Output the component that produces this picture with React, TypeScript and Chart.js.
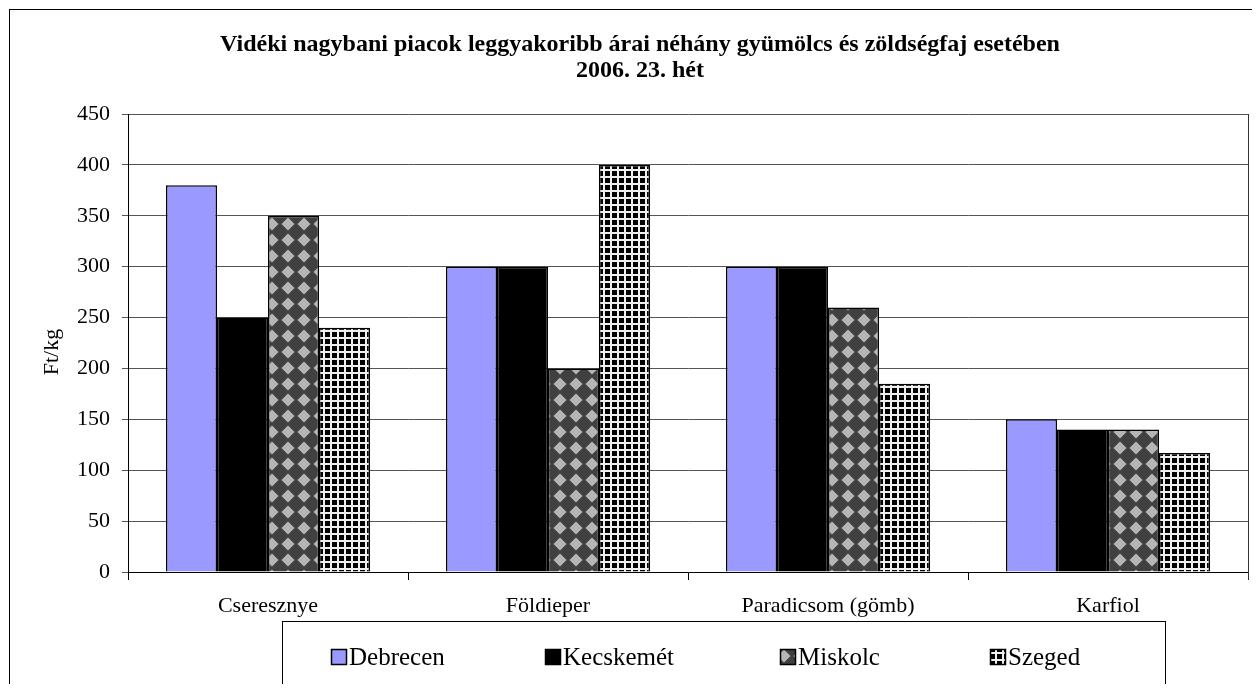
import { useEffect, useRef } from "react";
import { Chart, registerables } from "chart.js";

Chart.register(...registerables);

const categories = ["Cseresznye", "Földieper", "Paradicsom (gömb)", "Karfiol"];
const seriesNames = ["Debrecen", "Kecskemét", "Miskolc", "Szeged"];
const debrecen = [380, 300, 300, 150];
const kecskemet = [250, 300, 300, 140];
const miskolc = [350, 200, 260, 140];
const szeged = [240, 400, 185, 117];
const titleLines = [
  "Vidéki nagybani piacok leggyakoribb árai néhány gyümölcs és zöldségfaj esetében",
  "2006. 23. hét",
];
const yAxisTitle = "Ft/kg";
const yMin = 0;
const yMax = 450;
const yStep = 50;

const SERIF = '"Liberation Serif", "Times New Roman", serif';

function makeDiamondPattern(): CanvasPattern | string {
  const c = document.createElement("canvas");
  c.width = 16;
  c.height = 16;
  const g = c.getContext("2d");
  if (!g) return "#555";
  g.fillStyle = "#404040";
  g.fillRect(0, 0, 16, 16);
  g.fillStyle = "#b6b6b6";
  g.beginPath();
  g.moveTo(8, 1.5);
  g.lineTo(14.5, 8);
  g.lineTo(8, 14.5);
  g.lineTo(1.5, 8);
  g.closePath();
  g.fill();
  const p = g.createPattern(c, "repeat");
  return p || "#555";
}

function makeGridPattern(): CanvasPattern | string {
  const c = document.createElement("canvas");
  c.width = 7;
  c.height = 7;
  const g = c.getContext("2d");
  if (!g) return "#222";
  g.fillStyle = "#000";
  g.fillRect(0, 0, 7, 7);
  g.fillStyle = "#f0f0f0";
  g.fillRect(0, 0, 7, 2);
  g.fillRect(0, 0, 2, 7);
  const p = g.createPattern(c, "repeat");
  return p || "#222";
}

const legendXs = [323, 537, 772, 982];

export default function App() {
  const ref = useRef<HTMLCanvasElement | null>(null);

  useEffect(() => {
    const canvas = ref.current;
    if (!canvas) return;
    const fills = ["#9999ff", "#000000", makeDiamondPattern(), makeGridPattern()];
    const values = [debrecen, kecskemet, miskolc, szeged];

    const decor = {
      id: "decor",
      beforeDraw(chart: any) {
        const ctx = chart.ctx as CanvasRenderingContext2D;
        ctx.save();
        ctx.fillStyle = "#fff";
        ctx.fillRect(0, 0, chart.width, chart.height);
        ctx.strokeStyle = "#000";
        ctx.lineWidth = 1;
        ctx.strokeRect(1.5, 1.5, chart.width + 20, chart.height + 20);
        ctx.fillStyle = "#000";
        ctx.font = `bold 24px ${SERIF}`;
        ctx.textAlign = "center";
        ctx.textBaseline = "middle";
        ctx.fillText(titleLines[0], 632, 37);
        ctx.fillText(titleLines[1], 632, 63);
        // y axis title
        ctx.save();
        ctx.translate(44, 344);
        ctx.rotate(-Math.PI / 2);
        ctx.font = `22px ${SERIF}`;
        ctx.fillText(yAxisTitle, 0, 0);
        ctx.restore();
        ctx.restore();
      },
      afterDraw(chart: any) {
        const ctx = chart.ctx as CanvasRenderingContext2D;
        const a = chart.chartArea;
        ctx.save();
        ctx.strokeStyle = "#333";
        ctx.lineWidth = 1;
        ctx.beginPath();
        ctx.moveTo(Math.round(a.right) + 0.5, a.top);
        ctx.lineTo(Math.round(a.right) + 0.5, a.bottom + 8);
        ctx.stroke();
        // legend box
        ctx.strokeStyle = "#000";
        ctx.strokeRect(274.5, 613.5, 883, 65);
        ctx.font = `25px ${SERIF}`;
        ctx.textBaseline = "middle";
        ctx.textAlign = "left";
        chart.data.datasets.forEach((ds: any, i: number) => {
          const x = legendXs[i];
          const y = 641;
          ctx.fillStyle = ds.backgroundColor;
          ctx.fillRect(x, y, 15, 15);
          ctx.strokeStyle = "#000";
          ctx.lineWidth = 1.5;
          ctx.strokeRect(x + 0.5, y + 0.5, 15, 15);
          ctx.fillStyle = "#000";
          ctx.fillText(ds.label, x + 18, y + 9);
        });
        ctx.restore();
      },
    };

    const chart = new Chart(canvas, {
      type: "bar",
      data: {
        labels: categories,
        datasets: seriesNames.map((name, i) => ({
          label: name,
          data: values[i],
          backgroundColor: fills[i] as any,
          borderColor: "#000",
          borderWidth: 1.5,
          categoryPercentage: 0.7286,
          barPercentage: 1.0,
        })),
      },
      options: {
        responsive: false,
        animation: false,
        events: [],
        layout: { padding: { top: 106, right: 4, bottom: 52, left: 0 } },
        plugins: {
          legend: { display: false },
          title: { display: false },
          tooltip: { enabled: false },
        },
        scales: {
          x: {
            grid: {
              display: true,
              drawOnChartArea: false,
              drawTicks: true,
              tickLength: 8,
              color: "#000",
              offset: true,
            },
            border: { display: true, color: "#000", width: 1 },
            ticks: {
              color: "#000",
              font: { family: SERIF, size: 22 },
              padding: 13,
              maxRotation: 0,
              autoSkip: false,
            },
            afterFit(scale: any) {
              scale.height = 60;
            },
          },
          y: {
            min: yMin,
            max: yMax,
            grid: {
              color: "#555",
              lineWidth: 1,
              drawTicks: true,
              tickLength: 6,
            },
            border: { display: true, color: "#000", width: 1 },
            ticks: {
              stepSize: yStep,
              color: "#000",
              font: { family: SERIF, size: 22 },
              padding: 12,
            },
            afterFit(scale: any) {
              scale.width = 120;
            },
          },
        },
      },
      plugins: [decor],
    });
    return () => chart.destroy();
  }, []);

  return (
    <div style={{ width: 1244, height: 676 }}>
      <canvas ref={ref} width={1244} height={676} style={{ display: "block" }} />
    </div>
  );
}
